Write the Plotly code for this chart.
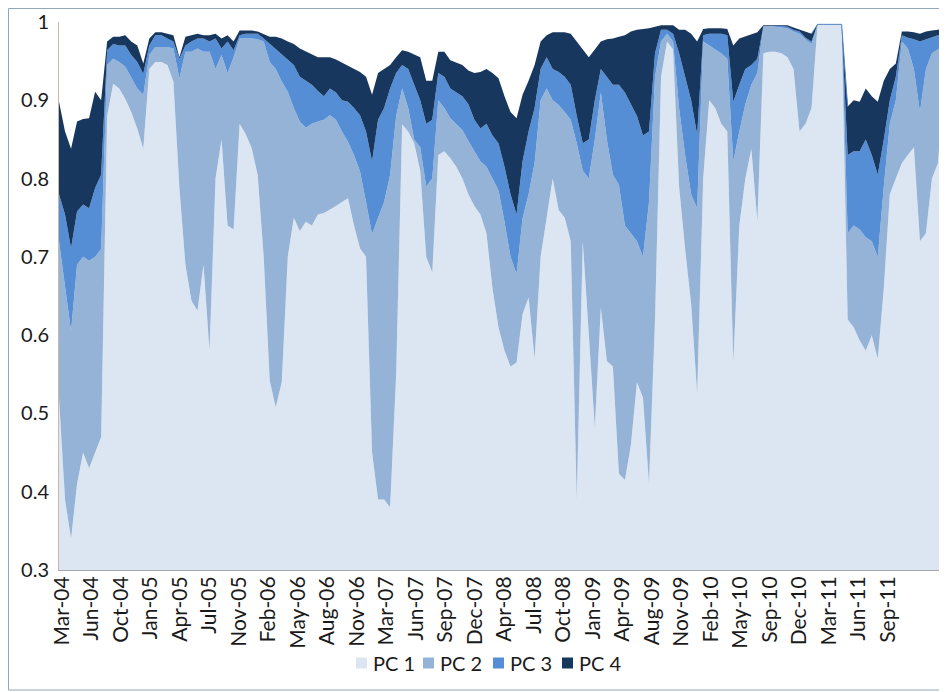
import plotly.graph_objects as go

cum_pc1 = [0.52, 0.39, 0.34, 0.41, 0.45, 0.43, 0.45, 0.47, 0.88, 0.921,
           0.915, 0.902, 0.885, 0.864, 0.838, 0.94, 0.949, 0.949, 0.945, 0.924,
           0.788, 0.69, 0.644, 0.631, 0.69, 0.58, 0.80, 0.85, 0.74, 0.735,
           0.87, 0.857, 0.839, 0.805, 0.70, 0.542, 0.508, 0.54, 0.70, 0.75,
           0.733, 0.745, 0.74, 0.754, 0.756, 0.76, 0.765, 0.77, 0.775, 0.74,
           0.711, 0.70, 0.45, 0.39, 0.39, 0.38, 0.55, 0.869, 0.86, 0.845,
           0.81, 0.70, 0.68, 0.83, 0.835, 0.826, 0.815, 0.80, 0.78, 0.765,
           0.754, 0.73, 0.66, 0.61, 0.58, 0.56, 0.565, 0.627, 0.648, 0.57,
           0.70, 0.75, 0.80, 0.76, 0.75, 0.72, 0.39, 0.72, 0.60, 0.482,
           0.635, 0.567, 0.56, 0.423, 0.415, 0.46, 0.54, 0.52, 0.41, 0.62,
           0.93, 0.975, 0.965, 0.79, 0.71, 0.64, 0.525, 0.80, 0.90, 0.89,
           0.87, 0.86, 0.565, 0.74, 0.80, 0.838, 0.745, 0.96, 0.962, 0.962,
           0.96, 0.955, 0.94, 0.86, 0.87, 0.89, 0.997, 0.997, 0.997, 0.997,
           0.997, 0.62, 0.61, 0.593, 0.58, 0.60, 0.57, 0.66, 0.78, 0.80,
           0.82, 0.83, 0.84, 0.72, 0.73, 0.80, 0.82, 0.92]

cum_pc2 = [0.72, 0.66, 0.605, 0.69, 0.70, 0.695, 0.70, 0.71, 0.945, 0.953,
           0.949, 0.943, 0.928, 0.915, 0.907, 0.958, 0.968, 0.968, 0.968, 0.966,
           0.928, 0.962, 0.962, 0.966, 0.962, 0.962, 0.94, 0.958, 0.935, 0.955,
           0.979, 0.979, 0.979, 0.978, 0.975, 0.949, 0.94, 0.924, 0.911, 0.89,
           0.873, 0.865, 0.87, 0.873, 0.875, 0.881, 0.875, 0.86, 0.847, 0.83,
           0.809, 0.77, 0.729, 0.75, 0.77, 0.805, 0.88, 0.915, 0.89, 0.85,
           0.84, 0.79, 0.80, 0.90, 0.89, 0.877, 0.87, 0.862, 0.848, 0.835,
           0.822, 0.815, 0.80, 0.785, 0.745, 0.70, 0.678, 0.749, 0.78, 0.82,
           0.90, 0.915, 0.90, 0.894, 0.885, 0.875, 0.845, 0.81, 0.80, 0.85,
           0.91, 0.85, 0.805, 0.792, 0.74, 0.73, 0.72, 0.70, 0.77, 0.93,
           0.975, 0.985, 0.975, 0.89, 0.83, 0.78, 0.762, 0.975, 0.97, 0.966,
           0.96, 0.953, 0.822, 0.86, 0.895, 0.92, 0.935, 0.995, 0.995, 0.994,
           0.993, 0.992, 0.988, 0.985, 0.978, 0.972, 0.997, 0.997, 0.997, 0.997,
           0.997, 0.73, 0.74, 0.735, 0.725, 0.72, 0.70, 0.79, 0.87, 0.90,
           0.975, 0.966, 0.94, 0.885, 0.94, 0.96, 0.965, 0.97]

cum_pc3 = [0.78, 0.754, 0.711, 0.758, 0.767, 0.762, 0.788, 0.805, 0.964, 0.972,
           0.97, 0.97, 0.958, 0.949, 0.934, 0.97, 0.983, 0.983, 0.979, 0.975,
           0.953, 0.97, 0.975, 0.979, 0.979, 0.975, 0.979, 0.966, 0.975, 0.964,
           0.983, 0.985, 0.985, 0.985, 0.979, 0.972, 0.966, 0.958, 0.951, 0.945,
           0.93, 0.925, 0.92, 0.912, 0.905, 0.915, 0.91, 0.90, 0.898, 0.89,
           0.881, 0.86, 0.822, 0.875, 0.89, 0.915, 0.935, 0.945, 0.94, 0.92,
           0.90, 0.87, 0.875, 0.935, 0.93, 0.915, 0.91, 0.905, 0.895, 0.875,
           0.864, 0.87, 0.855, 0.845, 0.815, 0.78, 0.754, 0.822, 0.86, 0.89,
           0.94, 0.955, 0.94, 0.936, 0.93, 0.92, 0.88, 0.845, 0.85, 0.90,
           0.94, 0.93, 0.92, 0.92, 0.91, 0.895, 0.88, 0.855, 0.86, 0.96,
           0.99, 0.99, 0.985, 0.96, 0.93, 0.90, 0.856, 0.983, 0.985, 0.985,
           0.985, 0.983, 0.898, 0.92, 0.94, 0.945, 0.953, 0.995, 0.995, 0.995,
           0.995, 0.994, 0.99, 0.988, 0.98, 0.975, 0.997, 0.997, 0.997, 0.997,
           0.997, 0.83, 0.835, 0.835, 0.85, 0.83, 0.805, 0.85, 0.90, 0.93,
           0.983, 0.98, 0.978, 0.975, 0.978, 0.98, 0.983, 0.985]

cum_pc4 = [0.898, 0.86, 0.838, 0.873, 0.876, 0.877, 0.911, 0.90, 0.975, 0.981,
           0.981, 0.983, 0.975, 0.97, 0.947, 0.979, 0.987, 0.987, 0.985, 0.983,
           0.955, 0.981, 0.983, 0.985, 0.983, 0.983, 0.985, 0.979, 0.983, 0.975,
           0.989, 0.989, 0.989, 0.988, 0.985, 0.981, 0.981, 0.979, 0.975, 0.972,
           0.966, 0.962, 0.958, 0.955, 0.955, 0.955, 0.952, 0.948, 0.945, 0.94,
           0.936, 0.93, 0.907, 0.935, 0.94, 0.945, 0.955, 0.964, 0.962, 0.958,
           0.955, 0.925, 0.925, 0.962, 0.962, 0.951, 0.948, 0.945, 0.938, 0.935,
           0.936, 0.94, 0.935, 0.928, 0.905, 0.885, 0.877, 0.907, 0.925, 0.945,
           0.975, 0.983, 0.987, 0.987, 0.987, 0.985, 0.975, 0.965, 0.955, 0.965,
           0.975, 0.978, 0.979, 0.981, 0.983, 0.988, 0.99, 0.991, 0.992, 0.994,
           0.996, 0.996, 0.996, 0.99, 0.99, 0.985, 0.975, 0.991, 0.992, 0.992,
           0.992, 0.991, 0.97, 0.979, 0.982, 0.985, 0.987, 0.996, 0.996, 0.996,
           0.996, 0.996, 0.993, 0.99, 0.988, 0.985, 0.997, 0.997, 0.997, 0.997,
           0.997, 0.892, 0.90, 0.898, 0.915, 0.905, 0.898, 0.925, 0.94, 0.947,
           0.988, 0.988, 0.987, 0.985, 0.988, 0.989, 0.99, 0.992]

tick_labels = ["Mar-04", "Jun-04", "Oct-04", "Jan-05", "Apr-05", "Jul-05", "Nov-05",
               "Feb-06", "May-06", "Aug-06", "Nov-06", "Mar-07", "Jun-07", "Sep-07",
               "Dec-07", "Apr-08", "Jul-08", "Oct-08", "Jan-09", "Apr-09", "Aug-09",
               "Nov-09", "Feb-10", "May-10", "Sep-10", "Dec-10", "Mar-11", "Jun-11",
               "Sep-11"]
series_names = ["PC 1", "PC 2", "PC 3", "PC 4"]
colors = ["#dce6f2", "#95b3d7", "#558ed5", "#17375e"]

n = len(cum_pc1)
span = 30.0  # axis length in label intervals
x = [i * span / (n - 1) for i in range(n)]
tickvals = [0.1 + k for k in range(len(tick_labels))]

fig = go.Figure()
levels = [cum_pc1, cum_pc2, cum_pc3, cum_pc4]
for k, (name, lvl, col) in enumerate(zip(series_names, levels, colors)):
    fig.add_trace(go.Scatter(
        x=x, y=lvl, name=name, mode="lines",
        line=dict(width=0, color=col),
        fill="tozeroy" if k == 0 else "tonexty",
        fillcolor=col, hoverinfo="skip", showlegend=False))

# thin outline on the flat Dec-10 block
fig.add_trace(go.Scatter(x=x[125:132], y=[cum_pc1[i] if 126 <= i <= 130 else cum_pc4[i] for i in range(125, 132)],
                         mode="lines", line=dict(width=1, color="#4f81bd"), showlegend=False,
                         hoverinfo="skip"))

FS = 21
font = dict(family="Lato, 'Open Sans', sans-serif", size=FS, color="#1a1a1a")

# page body has an 8px margin, so the figure is sized/positioned to compensate
W, H = 939, 684
L, R, T, B = 51, 3, 14, 122
pw, ph = W - L - R, H - T - B


def px_x(fx):  # figure pixel -> paper x
    return (fx - L) / pw


def px_y(fy):  # figure pixel -> paper y
    return (T + ph - fy) / ph


fig.update_layout(
    width=W, height=H,
    margin=dict(l=L, r=R, t=T, b=B, autoexpand=False),
    paper_bgcolor="white", plot_bgcolor="white",
    font=font,
    showlegend=False,
    xaxis=dict(range=[0, span], tickmode="array", tickvals=tickvals, ticktext=tick_labels,
               tickangle=-90, showgrid=False, zeroline=False, showline=True,
               linecolor="#a6a6a6", linewidth=1, ticks="", ticklabelstandoff=-3,
               automargin=False, tickfont=dict(size=FS), ticklabeloverflow="allow"),
    yaxis=dict(range=[0.3, 1.0], tickmode="array",
               tickvals=[0.3, 0.4, 0.5, 0.6, 0.7, 0.8, 0.9, 1.0],
               ticktext=["0.3", "0.4", "0.5", "0.6", "0.7", "0.8", "0.9", "1"],
               showgrid=False, zeroline=False, showline=True, linecolor="#c8b8a8",
               linewidth=1, ticks="", ticklabelstandoff=5, automargin=False,
               tickfont=dict(size=20), ticklabeloverflow="allow"),
)

# legend drawn as small squares + labels, as in the original
legend_sq_left = [348, 415, 485, 554]  # figure px
for name, col, sx in zip(series_names, colors, legend_sq_left):
    fig.add_shape(type="rect", xref="paper", yref="paper",
                  x0=px_x(sx), x1=px_x(sx + 11), y0=px_y(655 + 5.5), y1=px_y(655 - 5.5),
                  line=dict(width=0), fillcolor=col)
    fig.add_annotation(xref="paper", yref="paper", x=px_x(sx + 15), y=px_y(655),
                       xanchor="left", yanchor="middle", text=name, showarrow=False,
                       font=dict(size=20))

# outer chart border
fig.add_shape(type="rect", xref="paper", yref="paper",
              x0=px_x(0.5), x1=px_x(938), y0=px_y(682), y1=px_y(0.5),
              line=dict(color="#8fa8bd", width=1), fillcolor="rgba(0,0,0,0)", layer="below")

fig.write_html("out.html")
